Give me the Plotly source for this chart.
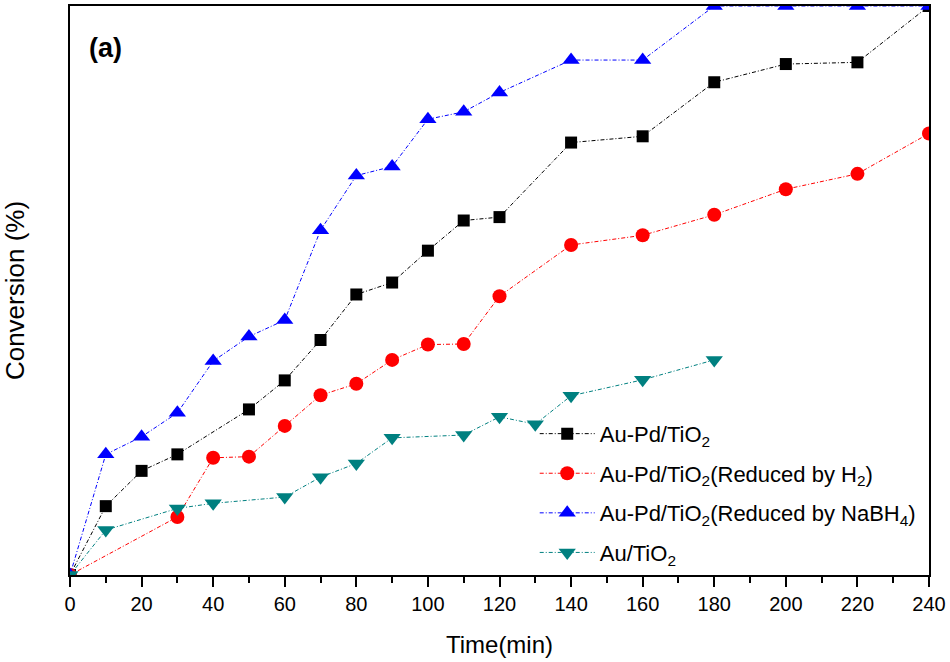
import plotly.graph_objects as go

# conversion (%) vs time (min)
t_aupd = [0, 10, 20, 30, 50, 60, 70, 80, 90, 100, 110, 120, 140, 160, 180, 200, 220, 240]
c_aupd = [0, 12.1, 18.3, 21.2, 29.1, 34.2, 41.3, 49.3, 51.4, 57.0, 62.3, 62.9, 76.0, 77.1, 86.6, 89.8, 90.1, 100]

t_h2 = [0, 30, 40, 50, 60, 70, 80, 90, 100, 110, 120, 140, 160, 180, 200, 220, 240]
c_h2 = [0, 10.2, 20.6, 20.8, 26.2, 31.6, 33.6, 37.8, 40.5, 40.6, 49.0, 58.0, 59.7, 63.3, 67.8, 70.5, 77.6]

t_nabh4 = [0, 10, 20, 30, 40, 50, 60, 70, 80, 90, 100, 110, 120, 140, 160, 180, 200, 220, 240]
c_nabh4 = [0, 21.2, 24.3, 28.5, 37.6, 41.9, 44.8, 60.6, 70.2, 71.8, 80.1, 81.4, 84.8, 90.5, 90.5, 100, 100, 100, 100]

t_au = [0, 10, 30, 40, 60, 70, 80, 90, 110, 120, 130, 140, 160, 180]
c_au = [0, 7.9, 11.7, 12.6, 13.7, 17.2, 19.6, 24.1, 24.6, 27.8, 26.5, 31.5, 34.3, 37.8]

names = ["Au-Pd/TiO<sub>2</sub>",
         "Au-Pd/TiO<sub>2</sub>(Reduced by H<sub>2</sub>)",
         "Au-Pd/TiO<sub>2</sub>(Reduced by NaBH<sub>4</sub>)",
         "Au/TiO<sub>2</sub>"]

fig = go.Figure()
series = [
    (t_aupd, c_aupd, "black", "square", 12),
    (t_h2, c_h2, "#ff0000", "circle", 14),
    (t_nabh4, c_nabh4, "#0000ff", "triangle-up", 15),
    (t_au, c_au, "#008080", "triangle-down", 15),
]
for i, (x, y, col, sym, sz) in enumerate(series):
    fig.add_trace(go.Scatter(
        x=x, y=y, name=names[i], mode="lines+markers",
        line=dict(color=col, width=1, dash="4px,2px,1px,2px"),
        marker=dict(color=col, symbol=sym, size=sz),
        legendgroup=str(i),
    ))

fig.update_layout(
    width=950, height=662,
    margin=dict(l=70, r=21, t=4, b=87),
    plot_bgcolor="white", paper_bgcolor="white",
    font=dict(family="Liberation Sans, Arial, sans-serif", color="black"),
    legend=dict(x=0.541, y=0.285, xanchor="left", yanchor="top",
                font=dict(size=22), tracegroupgap=8, itemwidth=55,
                bgcolor="rgba(0,0,0,0)"),
    annotations=[dict(text="<b>(a)</b>", x=0.0198, y=0.926, xref="paper", yref="paper",
                      xanchor="left", yanchor="middle", showarrow=False,
                      font=dict(size=27))],
)
fig.update_xaxes(
    range=[0, 240], tickvals=list(range(0, 241, 20)),
    ticks="outside", ticklen=10, tickwidth=2, tickcolor="black",
    minor=dict(ticks="outside", ticklen=6, tickwidth=2, tickcolor="black", dtick=10),
    showline=True, linewidth=2, linecolor="black", mirror=True,
    showgrid=False, zeroline=False, tickfont=dict(size=20),
    ticklabeloverflow="allow",
    title=dict(text="Time(min)", font=dict(size=24), standoff=22),
)
fig.update_yaxes(
    range=[0, 100], showticklabels=False, ticks="",
    showline=True, linewidth=2, linecolor="black", mirror=True,
    showgrid=False, zeroline=False,
    title=dict(text="Conversion (%)", font=dict(size=26), standoff=44),
)
# drop the default 8px body margin so the figure fills the window
fig.write_html("out.html", config={"displayModeBar": False},
               post_script="document.body.style.margin='0';document.body.style.overflow='hidden';")
